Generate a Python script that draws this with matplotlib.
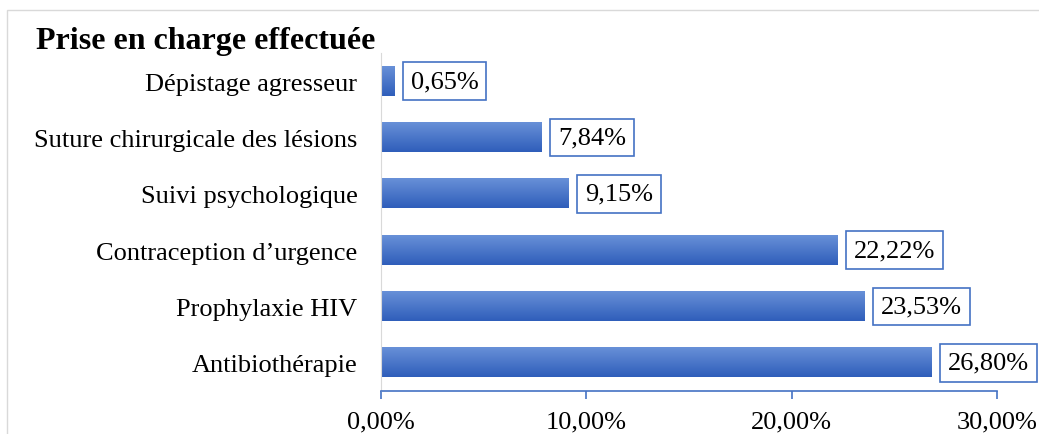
import matplotlib.pyplot as plt
import matplotlib.patches as mpatches
from matplotlib.colors import LinearSegmentedColormap
import numpy as np

categories = ["Dépistage agresseur", "Suture chirurgicale des lésions", "Suivi psychologique",
              "Contraception d\u2019urgence", "Prophylaxie HIV", "Antibiothérapie"]
values = [0.65, 7.84, 9.15, 22.22, 23.53, 26.80]
xticks = [0, 10, 20, 30]

plt.rcParams['font.family'] = ['Liberation Serif', 'DejaVu Serif']

fig = plt.figure(figsize=(10.39, 4.35), dpi=100)
ax = fig.add_axes([0.3667, 0.0989, 0.5929, 0.7771])

# frame around chart area
fig.patches.append(mpatches.Rectangle((7 / 1039, -0.1), 1.2, 1 - 11 / 435 + 0.1,
                                      transform=fig.transFigure, fill=False,
                                      edgecolor="#D9D9D9", lw=1))

pos = np.arange(len(categories))
bars = ax.barh(pos, values, height=0.52, color="none")

# vertical gradient fill of each bar
grad = np.linspace(0, 1, 50).reshape(-1, 1)
cmap = LinearSegmentedColormap.from_list("g", ["#6890D8", "#2F5EBA"])
for b in bars:
    x0, y0 = b.get_x(), b.get_y()
    w, hh = b.get_width(), b.get_height()
    ax.imshow(grad, cmap=cmap, aspect="auto", extent=[x0, x0 + w, y0, y0 + hh],
              origin="lower", zorder=2)

for p, v in zip(pos, values):
    ax.text(v + 0.8, p, f"{v:.2f}%".replace(".", ","), va="center", ha="left",
            fontsize=19, color="black",
            bbox=dict(boxstyle="square,pad=0.3", fc="white", ec="#4472C4", lw=1.2))

ax.set_ylim(len(categories) - 0.5, -0.5)
ax.set_xlim(0, 30)
ax.set_yticks(pos)
ax.set_yticklabels(categories, fontsize=19)
ax.tick_params(axis="y", length=0, pad=17)
ax.set_xticks(xticks)
ax.set_xticklabels([f"{t:.2f}%".replace(".", ",") for t in xticks], fontsize=19)
ax.tick_params(axis="x", length=6, color="#4472C4", width=1.2, pad=8)

for s in ["top", "right"]:
    ax.spines[s].set_visible(False)
ax.spines["left"].set_color("#D9D9D9")
ax.spines["bottom"].set_color("#4472C4")
ax.spines["bottom"].set_linewidth(1.2)

fig.text(36 / 1039, 1 - 41 / 435, "Prise en charge effectuée", fontsize=23,
         fontweight="bold", va="center", ha="left")

fig.savefig("out.png", dpi=100)
plt.close(fig)
